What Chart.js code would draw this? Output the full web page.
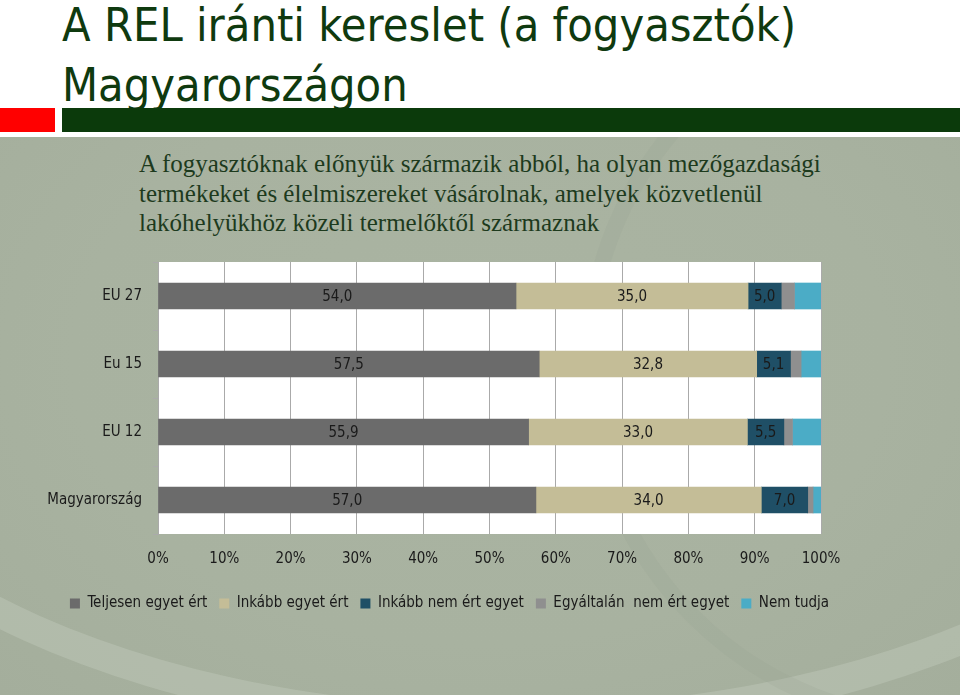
<!DOCTYPE html>
<html lang="hu">
<head>
<meta charset="utf-8">
<title>A REL iránti kereslet</title>
<script src="https://cdn.jsdelivr.net/npm/chart.js@4"></script>
<style>
  html, body { margin: 0; padding: 0; }
  body {
    width: 960px; height: 695px; position: relative; overflow: hidden;
    background: #fff;
  }
  .slide-bg {
    position: absolute; left: 0; top: 137px; width: 960px; height: 558px;
    background: radial-gradient(ellipse at 50% 40%, #aab4a2 0%, #a8b2a0 60%, #a4ae9c 100%);
    overflow: hidden;
  }
  .arc { position: absolute; border-radius: 50%; }
  .title {
    position: absolute; left: 62px; top: -5px; margin: 0;
    font-family: "DejaVu Sans Condensed", "Liberation Sans Narrow", sans-serif;
    font-weight: normal; font-size: 46.5px; line-height: 60px; color: #0f3a0f;
  }
  .red { position: absolute; left: 0; top: 108px; width: 55px; height: 24px; background: #ff0000; }
  .green { position: absolute; left: 62px; top: 108px; width: 898px; height: 24px; background: #0b3a0b; }
  .sub {
    position: absolute; left: 139px; top: 149px; margin: 0;
    font-family: "Liberation Serif", "DejaVu Serif", serif;
    font-size: 25px; line-height: 29.5px; color: #1d3a1d;
  }
  #chart { position: absolute; left: 0; top: 250px; }
</style>
</head>
<body>
<div class="slide-bg">
  <div class="arc" style="left:-260px; top:-260px; width:1480px; height:800px; border:30px solid rgba(200,208,196,0.35);"></div>
  <div class="arc" style="left:580px; top:-140px; width:700px; height:700px; border:16px solid rgba(150,160,145,0.18);"></div>
</div>
<h1 class="title">A REL iránti kereslet (a fogyasztók)<br>Magyarországon</h1>
<div class="red"></div>
<div class="green"></div>
<p class="sub">A fogyasztóknak előnyük származik abból, ha olyan mezőgazdasági<br>termékeket és élelmiszereket vásárolnak, amelyek közvetlenül<br>lakóhelyükhöz közeli termelőktől származnak</p>
<canvas id="chart" width="960" height="375"></canvas>
<script>
const regions = ['EU 27', 'Eu 15', 'EU 12', 'Magyarország'];
const seriesNames = ['Teljesen egyet ért', 'Inkább egyet ért', 'Inkább nem ért egyet', 'Egyáltalán  nem ért egyet', 'Nem tudja'];
const teljesen = [54.0, 57.5, 55.9, 57.0];
const inkabbIgen = [35.0, 32.8, 33.0, 34.0];
const inkabbNem = [5.0, 5.1, 5.5, 7.0];
const egyaltalanNem = [2.0, 1.6, 1.3, 0.8];
const nemTudja = [4.0, 3.0, 4.3, 1.2];
const percentTicks = [0, 10, 20, 30, 40, 50, 60, 70, 80, 90, 100];

const colors = ['#6b6b6b', '#c4bd97', '#1f4f66', '#8f8f8f', '#4bacc6'];
const fontFam = '"DejaVu Sans Condensed", "Liberation Sans Narrow", sans-serif';

const plotBg = {
  id: 'plotBg',
  beforeDraw(chart) {
    const a = chart.chartArea;
    chart.ctx.save();
    chart.ctx.fillStyle = '#ffffff';
    chart.ctx.fillRect(a.left, a.top, a.right - a.left, a.bottom - a.top);
    chart.ctx.restore();
  }
};

// legend sits centred under the whole slide, not under the plot
const legendShift = {
  id: 'legendShift',
  afterLayout(chart) {
    chart.legend.left += 39;
    chart.legend.right += 39;
  }
};

// value labels in the middle of the first three segments
const segLabels = {
  id: 'segLabels',
  afterDatasetsDraw(chart) {
    const ctx = chart.ctx;
    ctx.save();
    ctx.font = '15px ' + fontFam;
    ctx.fillStyle = '#1a1a1a';
    ctx.textAlign = 'center';
    ctx.textBaseline = 'middle';
    chart.data.datasets.forEach((ds, i) => {
      if (!ds.showValues) return;
      chart.getDatasetMeta(i).data.forEach((bar, j) => {
        const p = bar.getProps(['x', 'y', 'base'], true);
        ctx.fillText(ds.data[j].toFixed(1).replace('.', ','), (p.x + p.base) / 2, p.y + 1);
      });
    });
    ctx.restore();
  }
};

const seriesData = [teljesen, inkabbIgen, inkabbNem, egyaltalanNem, nemTudja];

new Chart(document.getElementById('chart'), {
  type: 'bar',
  data: {
    labels: regions,
    datasets: seriesData.map((d, i) => ({
      label: seriesNames[i],
      data: d,
      backgroundColor: colors[i],
      borderWidth: 0,
      barThickness: 26,
      showValues: i < 3,
    })),
  },
  options: {
    indexAxis: 'y',
    responsive: false,
    animation: false,
    devicePixelRatio: 1,
    layout: { padding: { left: 0, right: 139, top: 12, bottom: 4 } },
    scales: {
      x: {
        stacked: true,
        min: 0,
        max: 100,
        afterBuildTicks(scale) {
          scale.ticks = percentTicks.map(v => ({ value: v }));
        },
        grid: { color: '#aaaaaa', drawTicks: false },
        border: { display: false },
        ticks: {
          padding: 16,
          color: '#1a1a1a',
          font: { family: fontFam, size: 15 },
          callback: v => v + '%',
        },
      },
      y: {
        stacked: true,
        afterFit(scale) {
          scale.width = 158;
          scale.paddingTop = 0;
          scale.paddingBottom = 0;
        },
        grid: { offset: true, drawOnChartArea: false, drawTicks: true, tickLength: 5, color: '#aaaaaa' },
        border: { color: '#aaaaaa' },
        ticks: {
          padding: 11,
          color: '#1a1a1a',
          font: { family: fontFam, size: 15 },
        },
      },
    },
    plugins: {
      legend: {
        position: 'bottom',
        labels: {
          boxWidth: 10,
          boxHeight: 10,
          padding: 12,
          color: '#1a1a1a',
          font: { family: fontFam, size: 15 },
        },
      },
      tooltip: { enabled: false },
    },
  },
  plugins: [plotBg, legendShift, segLabels],
});
</script>
</body>
</html>
